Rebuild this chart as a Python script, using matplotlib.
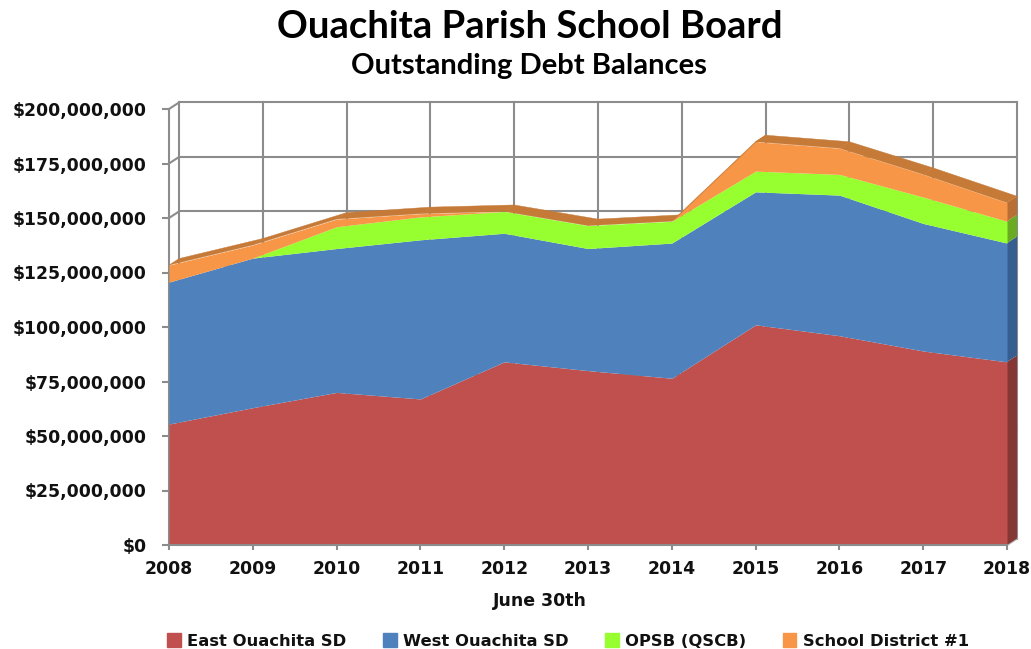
import numpy as np
import matplotlib
matplotlib.use("Agg")
import matplotlib.pyplot as plt
from matplotlib.patches import Patch

years = [2008, 2009, 2010, 2011, 2012, 2013, 2014, 2015, 2016, 2017, 2018]
east = [55.5, 63, 70, 67, 84, 80, 76.5, 101, 96, 89, 84]
west = [65.1, 68.6, 66, 73, 59, 56, 62, 61, 64.5, 58.5, 54.5]
opsb = [0, 0, 10, 10.5, 10, 10.5, 10, 9.5, 9.5, 12.1, 10]
sd1 = [7.8, 6, 3.5, 1.5, 0, 0, 0, 13.5, 12, 10.4, 8.5]
names = ["East Ouachita SD", "West Ouachita SD", "OPSB (QSCB)", "School District #1"]
front = ["#C0504D", "#4F81BD", "#97FF2F", "#F79646"]
side = ["#843735", "#365E8F", "#69AB22", "#B96F33"]
top_color = "#C57A38"
grid_color = "#8C8C8C"
yticks = [0, 25, 50, 75, 100, 125, 150, 175, 200]

W, H = 1031, 649
L, R, T, B = 169, 1007, 109, 545
fig = plt.figure(figsize=(W / 100, H / 100), dpi=100, facecolor="white")
ax = fig.add_axes([L / W, 1 - B / H, (R - L) / W, (B - T) / H])
ax.set_xlim(2008, 2018)
ax.set_ylim(0, 200)
for s in ax.spines.values():
    s.set_visible(False)
ax.patch.set_visible(False)

TITLE_FONT = "Lato"
LABEL_FONT = "DejaVu Sans"

# depth of the 3-D box in data units (10 px right, about 6.5 px up)
DX = 10 / ((R - L) / 10)
DY = 6.5 / ((B - T) / 200)
glw = 1.5
x = np.array(years, float)

# back wall and side wall
for yv in yticks[1:]:
    ax.plot([2008 + DX, 2018 + DX], [yv + DY, yv + DY], color=grid_color, lw=glw, clip_on=False, zorder=1)
for yr in years:
    ax.plot([yr + DX, yr + DX], [DY, 200 + DY], color=grid_color, lw=glw, clip_on=False, zorder=1)
for yv in yticks:
    ax.plot([2008, 2008 + DX], [yv, yv + DY], color=grid_color, lw=glw, clip_on=False, zorder=1)
ax.plot([2008, 2008], [0, 200], color=grid_color, lw=glw, clip_on=False, zorder=1)
ax.plot([2018, 2018 + DX], [0, DY], color="#B0B0B0", lw=glw, clip_on=False, zorder=1)
ax.plot([2008, 2018], [0, 0], color=grid_color, lw=glw, clip_on=False, zorder=5)

# stacked front faces
stack = np.cumsum([east, west, opsb, sd1], axis=0)
lower = np.zeros(len(years))
for i, upper in enumerate(stack):
    ax.fill_between(x, lower, upper, color=front[i], lw=0, clip_on=False, zorder=4)
    # right side face
    ax.fill([2018, 2018 + DX, 2018 + DX, 2018],
            [lower[-1], lower[-1] + DY, upper[-1] + DY, upper[-1]],
            color=side[i], lw=0, clip_on=False, zorder=3)
    lower = upper

# top surface
top = stack[-1]
for j in range(len(years) - 1):
    ax.fill([x[j], x[j + 1], x[j + 1] + DX, x[j] + DX],
            [top[j], top[j + 1], top[j + 1] + DY, top[j] + DY],
            color=top_color, lw=0.3, ec=top_color, clip_on=False, zorder=3)

ax.set_xticks(years)
ax.set_yticks(yticks)
ax.set_yticklabels(["$0" if v == 0 else f"${v * 1000000:,}" for v in yticks])
ax.tick_params(axis="y", length=5, width=1.5, color=grid_color, pad=11)
ax.tick_params(axis="x", length=3.5, width=1.5, color=grid_color, pad=7)
for lab in ax.get_xticklabels() + ax.get_yticklabels():
    lab.set_fontfamily(LABEL_FONT)
    lab.set_fontweight("bold")
    lab.set_fontsize(12.4)
    lab.set_color("#111111")

fig.text(530 / W, 1 - 27 / H, "Ouachita Parish School Board", ha="center", va="center",
         family=TITLE_FONT, fontweight="bold", fontsize=27.5, color="black")
fig.text(529 / W, 1 - 66 / H, "Outstanding Debt Balances", ha="center", va="center",
         family=TITLE_FONT, fontweight="bold", fontsize=21, color="black")
fig.text(540 / W, 1 - 601 / H, "June 30th", ha="center", va="center",
         family=LABEL_FONT, fontweight="bold", fontsize=12.5, color="#111111")

handles = [Patch(color=c, label=n) for c, n in zip(front, names)]
fig.legend(handles=handles, ncol=4, loc="center", bbox_to_anchor=(568 / W, 1 - 641 / H),
           frameon=False, handlelength=0.85, handleheight=0.9, handletextpad=0.4, columnspacing=2.2,
           prop={"family": LABEL_FONT, "weight": "bold", "size": 11.8}, labelcolor="#111111",
           borderpad=0, borderaxespad=0)

fig.savefig("out.png", dpi=100, facecolor="white")
